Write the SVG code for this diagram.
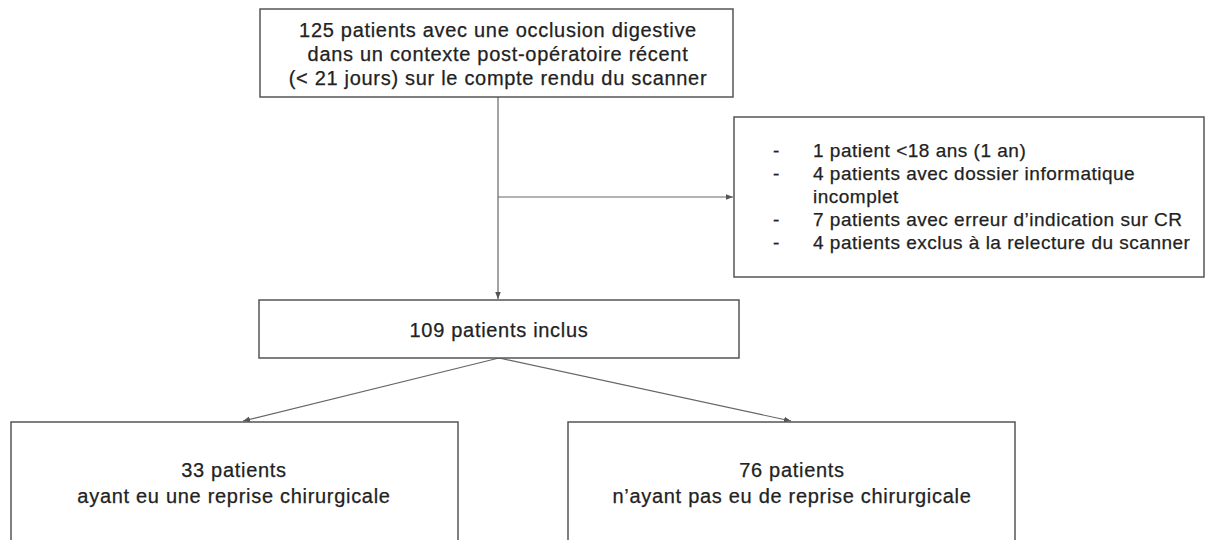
<svg xmlns="http://www.w3.org/2000/svg" width="1206" height="540" viewBox="0 0 1206 540">
<style>
.box{fill:#fff;stroke:#555;stroke-width:1.5}
.t{font-family:"Liberation Sans",Arial,sans-serif;font-size:20px;letter-spacing:0.7px;fill:#222;stroke:#222;stroke-width:0.25}
.s{font-size:19px;letter-spacing:0.5px}
.c{text-anchor:middle}
.ln{stroke:#666;stroke-width:1.2;fill:none}
</style>
<defs>
<marker id="ah" viewBox="0 0 10 10" refX="10" refY="5" markerWidth="7" markerHeight="7" markerUnits="userSpaceOnUse" orient="auto">
<path d="M0,1 L10,5 L0,9 z" fill="#555"/>
</marker>
</defs>
<rect width="1206" height="540" fill="#fff"/>
<g id="connectors">
<line class="ln" x1="498" y1="97" x2="498" y2="299" marker-end="url(#ah)"/>
<line class="ln" x1="498" y1="197" x2="733" y2="197" marker-end="url(#ah)"/>
<line class="ln" x1="499" y1="358" x2="243" y2="421" marker-end="url(#ah)"/>
<line class="ln" x1="499" y1="358" x2="791" y2="421" marker-end="url(#ah)"/>
</g>
<g id="n-top">
<rect class="box" x="260" y="9" width="473" height="88"/>
<text class="t c" x="498" y="37">125 patients avec une occlusion digestive</text>
<text class="t c" x="498" y="61">dans un contexte post-opératoire récent</text>
<text class="t c" x="498" y="85">(&lt; 21 jours) sur le compte rendu du scanner</text>
</g>
<g id="n-excl">
<rect class="box" x="734" y="117" width="470" height="160"/>
<text class="t s" x="773" y="157">-</text><text class="t s" x="813" y="157">1 patient &lt;18 ans (1 an)</text>
<text class="t s" x="773" y="180">-</text><text class="t s" x="813" y="180">4 patients avec dossier informatique</text>
<text class="t s" x="813" y="203">incomplet</text>
<text class="t s" x="773" y="226">-</text><text class="t s" x="813" y="226">7 patients avec erreur d’indication sur CR</text>
<text class="t s" x="773" y="249">-</text><text class="t s" x="813" y="249">4 patients exclus à la relecture du scanner</text>
</g>
<g id="n-incl">
<rect class="box" x="259" y="300" width="480" height="58"/>
<text class="t c" x="499" y="337">109 patients inclus</text>
</g>
<g id="n-left">
<rect class="box" x="11" y="422" width="447" height="130"/>
<text class="t c" x="234" y="477">33 patients</text>
<text class="t c" x="234" y="503">ayant eu une reprise chirurgicale</text>
</g>
<g id="n-right">
<rect class="box" x="568" y="422" width="447" height="130"/>
<text class="t c" x="792" y="477">76 patients</text>
<text class="t c" x="792" y="503">n’ayant pas eu de reprise chirurgicale</text>
</g>
</svg>
